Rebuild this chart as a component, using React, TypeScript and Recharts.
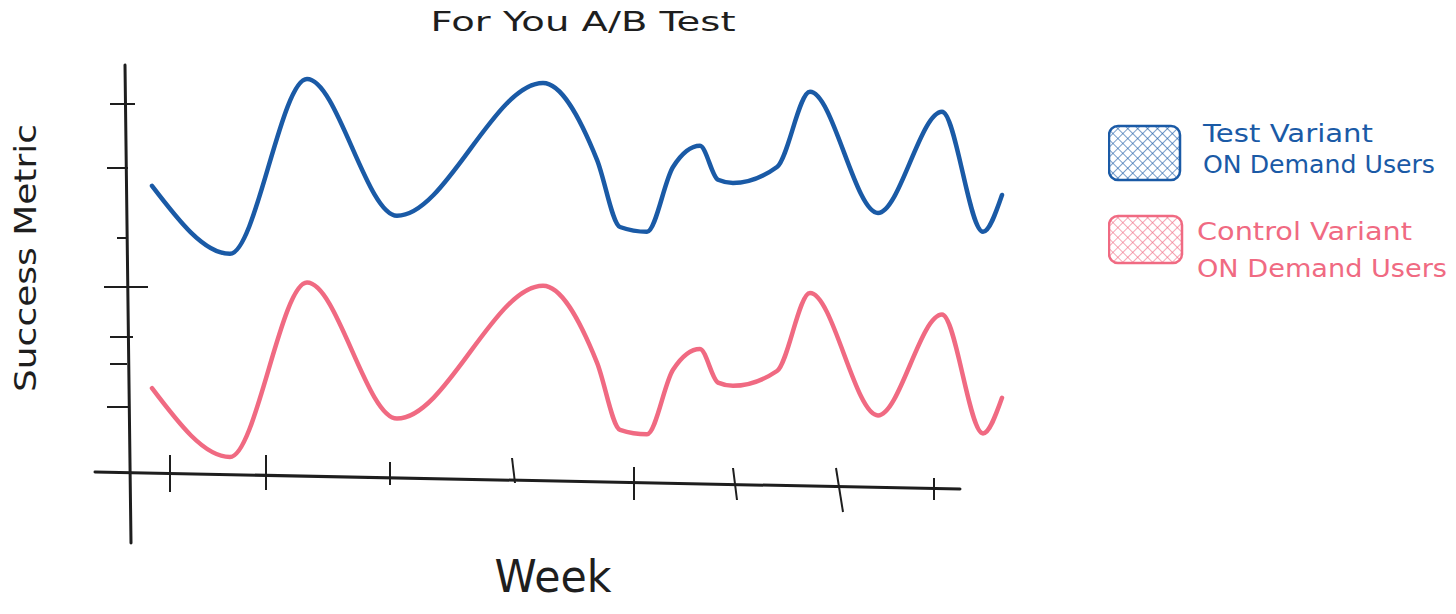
import { Legend, Line, LineChart, ReferenceLine, XAxis, YAxis } from "recharts";

// week position along the x axis
const weeks = [
  2.4, 10.2, 17.9, 26.9, 41.5, 46.9, 49.2, 51.9, 54.5, 57.2, 59.0, 60.5, 64.9, 68.2,
  75.0, 81.4, 85.5, 87.4,
];

const testVariant = [
  71.8, 54.8, 98.5, 64.3, 97.5, 78.3, 61.5, 60.3, 76.5, 81.8, 73.3, 72.5, 76.5, 95.3,
  65.0, 90.3, 60.3, 69.5,
];

const controlVariant = [
  21.2, 4.0, 47.6, 13.6, 46.8, 27.6, 10.8, 9.7, 25.8, 31.0, 22.6, 21.8, 25.5, 45.0,
  14.4, 39.6, 9.9, 18.8,
];

const seriesLabels = [
  ["Test Variant", "ON Demand Users"],
  ["Control Variant", "ON Demand Users"],
];

// hand drawn tick marks: [y, xFrom, xTo]
const yTickMarks = [
  [92.25, -1.8, 0.7],
  [76.25, -2.1, 0.0],
  [58.75, -1.1, -0.1],
  [46.5, -2.4, 2.0],
  [34.0, -1.8, 0.5],
  [27.25, -1.8, -0.1],
  [16.5, -2.1, 0.2],
];

// [xTop, xBottom, yTop, yBottom]
const xTickMarks = [
  [4.2, 4.2, 4.5, -4.75],
  [13.8, 13.8, 4.5, -4.25],
  [26.2, 26.2, 2.75, -3.0],
  [38.4, 38.7, 3.75, -2.5],
  [50.6, 50.6, 1.5, -6.75],
  [60.5, 60.9, 1.25, -6.75],
  [70.8, 71.5, 1.25, -9.75],
  [80.6, 80.6, -1.25, -6.75],
];

const yAxisLine = [
  { x: -0.3, y: 102 },
  { x: 0.3, y: -17.5 },
];
const xAxisLine = [
  { x: -3.3, y: 0.25 },
  { x: 83.2, y: -4 },
];

const data = weeks.map((week, i) => ({
  week,
  test: testVariant[i],
  control: controlVariant[i],
}));

const testColor = "#1a5aa6";
const controlColor = "#f06a82";
const inkColor = "#1e1e1e";
const font = "'DejaVu Sans', sans-serif";

function SketchLegend() {
  const colors = [testColor, controlColor];
  return (
    <svg width={350} height={170}>
      <defs>
        {colors.map((c, i) => (
          <pattern
            key={c}
            id={`hatch-${i}`}
            width={7}
            height={7}
            patternUnits="userSpaceOnUse"
            patternTransform="rotate(45)"
          >
            <line x1={0} y1={0} x2={0} y2={7} stroke={c} strokeWidth={1.2} />
            <line x1={0} y1={0} x2={7} y2={0} stroke={c} strokeWidth={1.2} />
          </pattern>
        ))}
      </defs>
      <rect x={1} y={8} width={71} height={54} rx={9} fill="url(#hatch-0)" stroke={testColor} strokeWidth={2.5} />
      <rect x={1} y={98} width={73} height={47} rx={9} fill="url(#hatch-1)" stroke={controlColor} strokeWidth={2.5} />
      <g fontFamily={font} fontSize={24} fill={testColor}>
        <text x={95} y={24} textLength={170} lengthAdjust="spacingAndGlyphs">{seriesLabels[0][0]}</text>
        <text x={95} y={55} textLength={232} lengthAdjust="spacingAndGlyphs">{seriesLabels[0][1]}</text>
      </g>
      <g fontFamily={font} fontSize={24} fill={controlColor}>
        <text x={89} y={122} textLength={215} lengthAdjust="spacingAndGlyphs">{seriesLabels[1][0]}</text>
        <text x={89} y={159} textLength={250} lengthAdjust="spacingAndGlyphs">{seriesLabels[1][1]}</text>
      </g>
    </svg>
  );
}

export default function App() {
  return (
    <LineChart
      width={1440}
      height={598}
      data={data}
      margin={{ top: 54, right: 438, bottom: 61, left: 87 }}
    >
      <XAxis dataKey="week" type="number" domain={[-3.3, 88.2]} hide />
      <YAxis type="number" domain={[-18, 102.75]} hide />

      <ReferenceLine segment={yAxisLine} stroke={inkColor} strokeWidth={3} strokeLinecap="round" />
      <ReferenceLine segment={xAxisLine} stroke={inkColor} strokeWidth={3} strokeLinecap="round" />
      {yTickMarks.map(([y, from, to]) => (
        <ReferenceLine
          key={`y${y}`}
          segment={[{ x: from, y }, { x: to, y }]}
          stroke={inkColor}
          strokeWidth={2}
        />
      ))}
      {xTickMarks.map(([xt, xb, yt, yb]) => (
        <ReferenceLine
          key={`x${xt}`}
          segment={[{ x: xt, y: yt }, { x: xb, y: yb }]}
          stroke={inkColor}
          strokeWidth={2}
        />
      ))}

      <Line
        type="monotone"
        dataKey="test"
        name="Test Variant ON Demand Users"
        stroke={testColor}
        strokeWidth={4.5}
        strokeLinecap="round"
        dot={false}
        activeDot={false}
        isAnimationActive={false}
      />
      <Line
        type="monotone"
        dataKey="control"
        name="Control Variant ON Demand Users"
        stroke={controlColor}
        strokeWidth={4.5}
        strokeLinecap="round"
        dot={false}
        activeDot={false}
        isAnimationActive={false}
      />

      <Legend
        layout="horizontal"
        verticalAlign="middle"
        align="center"
        content={() => <SketchLegend />}
        wrapperStyle={{ left: 1100, top: 110, width: 350, height: 170 }}
      />

      <text
        x={575}
        y={23}
        textAnchor="middle"
        fontFamily={font}
        fontSize={26}
        fill={inkColor}
        textLength={305}
        lengthAdjust="spacingAndGlyphs"
      >
        For You A/B Test
      </text>
      <text
        x={17}
        y={250}
        textAnchor="middle"
        dominantBaseline="central"
        transform="rotate(-90 17 250)"
        fontFamily={font}
        fontSize={30}
        fill={inkColor}
        textLength={268}
        lengthAdjust="spacingAndGlyphs"
      >
        Success Metric
      </text>
      <text
        x={545}
        y={584}
        textAnchor="middle"
        fontFamily={font}
        fontSize={44}
        fill={inkColor}
        textLength={117}
        lengthAdjust="spacingAndGlyphs"
      >
        Week
      </text>
    </LineChart>
  );
}
